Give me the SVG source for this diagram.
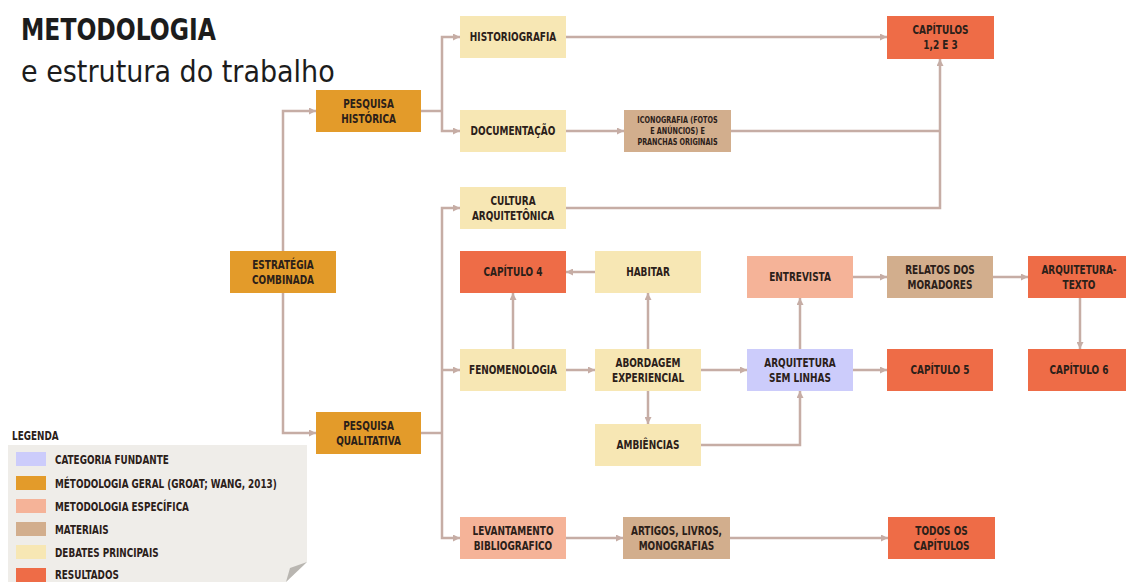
<svg xmlns="http://www.w3.org/2000/svg" width="1126" height="582" viewBox="0 0 1126 582">
  <defs>
    <marker id="arr" viewBox="0 0 10 10" refX="10" refY="5" markerWidth="7" markerHeight="7" markerUnits="userSpaceOnUse" orient="auto">
      <path d="M0,0 L10,5 L0,10 z" fill="#c6ada5"/>
    </marker>
    <style>
      .bg { fill: #ffffff; }
      .lbl { font-family: "DejaVu Sans Condensed", "Liberation Sans Narrow", "Liberation Sans", sans-serif; font-weight: bold; font-size: 12px; fill: #2b2019; text-anchor: middle;
             transform-box: fill-box; transform-origin: center; transform: scaleX(0.83); }
      .sm { font-size: 9px; transform: scaleX(0.8); }
      .leg { font-family: "DejaVu Sans Condensed", "Liberation Sans Narrow", "Liberation Sans", sans-serif; font-weight: bold; font-size: 12px; fill: #2b2019;
             transform-box: fill-box; transform-origin: left center; transform: scaleX(0.82); }
      .title { font-family: "DejaVu Sans Condensed", "Liberation Sans Narrow", "Liberation Sans", sans-serif; font-weight: bold; font-size: 30px; fill: #1c1c1c;
               transform-box: fill-box; transform-origin: left center; transform: scaleX(0.87); }
      .sub { font-family: "DejaVu Sans Condensed", "Liberation Sans Narrow", "Liberation Sans", sans-serif; font-size: 30px; fill: #1c1c1c; }
      .conn path { fill: none; stroke: #c6ada5; stroke-width: 2.5; }
      .conn path.a { marker-end: url(#arr); }
      .geral { fill: #e39b2a; }
      .debate { fill: #f7e7b4; }
      .result { fill: #ee6c47; }
      .mat { fill: #d2ae8d; }
      .espec { fill: #f5b398; }
      .fund { fill: #ccccfb; }
    </style>
  </defs>

  <rect class="bg" x="0" y="0" width="1126" height="582"/>

  <!-- heading -->
  <text class="title" x="21" y="40">METODOLOGIA</text>
  <text class="sub" x="21" y="82">e estrutura do trabalho</text>

  <!-- connectors -->
  <g id="connectors" class="conn">
    <path class="a" d="M283,251 V111 H316"/>
    <path class="a" d="M283,293 V433 H316"/>
    <path d="M421,111 H442"/>
    <path class="a" d="M442,111 V37 H460"/>
    <path class="a" d="M442,111 V131 H460"/>
    <path d="M421,433 H442"/>
    <path class="a" d="M442,433 V208 H460"/>
    <path class="a" d="M442,370 H460"/>
    <path class="a" d="M442,433 V538 H460"/>
    <path class="a" d="M566,37 H887"/>
    <path class="a" d="M566,131 H624"/>
    <path d="M731,131 H940"/>
    <path class="a" d="M566,208 H940 V59"/>
    <path class="a" d="M595,272 H566"/>
    <path class="a" d="M513,349 V293"/>
    <path class="a" d="M566,370 H595"/>
    <path class="a" d="M648,349 V293"/>
    <path class="a" d="M648,391 V424"/>
    <path class="a" d="M701,370 H747"/>
    <path class="a" d="M701,445 H800 V391"/>
    <path class="a" d="M800,349 V298"/>
    <path class="a" d="M853,277 H887"/>
    <path class="a" d="M993,277 H1028"/>
    <path class="a" d="M1080,298 V349"/>
    <path class="a" d="M853,370 H887"/>
    <path class="a" d="M566,538 H623"/>
    <path class="a" d="M730,538 H888"/>
  </g>

  <!-- nodes -->
  <g id="estrategia-combinada">
    <rect class="geral" x="230" y="251" width="106" height="42"/>
    <text class="lbl" x="283" y="269">ESTRATÉGIA</text>
    <text class="lbl" x="283" y="284">COMBINADA</text>
  </g>
  <g id="pesquisa-historica">
    <rect class="geral" x="316" y="90" width="105" height="42"/>
    <text class="lbl" x="368.5" y="108">PESQUISA</text>
    <text class="lbl" x="368.5" y="123">HISTÓRICA</text>
  </g>
  <g id="pesquisa-qualitativa">
    <rect class="geral" x="316" y="412" width="105" height="42"/>
    <text class="lbl" x="368.5" y="430">PESQUISA</text>
    <text class="lbl" x="368.5" y="445">QUALITATIVA</text>
  </g>
  <g id="historiografia">
    <rect class="debate" x="460" y="16" width="106" height="42"/>
    <text class="lbl" x="513" y="41.5">HISTORIOGRAFIA</text>
  </g>
  <g id="documentacao">
    <rect class="debate" x="460" y="110" width="106" height="42"/>
    <text class="lbl" x="513" y="135.5">DOCUMENTAÇÃO</text>
  </g>
  <g id="iconografia">
    <rect class="mat" x="624" y="110" width="107" height="42"/>
    <text class="lbl sm" x="677.5" y="123">ICONOGRAFIA (FOTOS</text>
    <text class="lbl sm" x="677.5" y="134">E ANÚNCIOS) E</text>
    <text class="lbl sm" x="677.5" y="145">PRANCHAS ORIGINAIS</text>
  </g>
  <g id="capitulos-1-2-3">
    <rect class="result" x="887" y="16" width="107" height="43"/>
    <text class="lbl" x="940.5" y="34">CAPÍTULOS</text>
    <text class="lbl" x="940.5" y="49">1,2 E 3</text>
  </g>
  <g id="cultura-arquitetonica">
    <rect class="debate" x="460" y="187" width="106" height="42"/>
    <text class="lbl" x="513" y="205">CULTURA</text>
    <text class="lbl" x="513" y="220">ARQUITETÔNICA</text>
  </g>
  <g id="capitulo-4">
    <rect class="result" x="460" y="251" width="106" height="42"/>
    <text class="lbl" x="513" y="276.5">CAPÍTULO 4</text>
  </g>
  <g id="habitar">
    <rect class="debate" x="595" y="251" width="106" height="42"/>
    <text class="lbl" x="648" y="276.5">HABITAR</text>
  </g>
  <g id="entrevista">
    <rect class="espec" x="747" y="256" width="106" height="42"/>
    <text class="lbl" x="800" y="281.5">ENTREVISTA</text>
  </g>
  <g id="relatos-dos-moradores">
    <rect class="mat" x="887" y="256" width="106" height="42"/>
    <text class="lbl" x="940" y="274">RELATOS DOS</text>
    <text class="lbl" x="940" y="289">MORADORES</text>
  </g>
  <g id="arquitetura-texto">
    <rect class="result" x="1028" y="256" width="98" height="42"/>
    <text class="lbl" x="1079" y="274">ARQUITETURA-</text>
    <text class="lbl" x="1079" y="289">TEXTO</text>
  </g>
  <g id="fenomenologia">
    <rect class="debate" x="460" y="349" width="106" height="42"/>
    <text class="lbl" x="513" y="374.5">FENOMENOLOGIA</text>
  </g>
  <g id="abordagem-experiencial">
    <rect class="debate" x="595" y="349" width="106" height="42"/>
    <text class="lbl" x="648" y="367">ABORDAGEM</text>
    <text class="lbl" x="648" y="382">EXPERIENCIAL</text>
  </g>
  <g id="arquitetura-sem-linhas">
    <rect class="fund" x="747" y="349" width="106" height="42"/>
    <text class="lbl" x="800" y="367">ARQUITETURA</text>
    <text class="lbl" x="800" y="382">SEM LINHAS</text>
  </g>
  <g id="capitulo-5">
    <rect class="result" x="887" y="349" width="106" height="42"/>
    <text class="lbl" x="940" y="374.5">CAPÍTULO 5</text>
  </g>
  <g id="capitulo-6">
    <rect class="result" x="1028" y="349" width="98" height="42"/>
    <text class="lbl" x="1079" y="374.5">CAPÍTULO 6</text>
  </g>
  <g id="ambiencias">
    <rect class="debate" x="595" y="424" width="106" height="42"/>
    <text class="lbl" x="648" y="449.5">AMBIÊNCIAS</text>
  </g>
  <g id="levantamento-bibliografico">
    <rect class="espec" x="460" y="517" width="106" height="42"/>
    <text class="lbl" x="513" y="535">LEVANTAMENTO</text>
    <text class="lbl" x="513" y="550">BIBLIOGRAFICO</text>
  </g>
  <g id="artigos-livros-monografias">
    <rect class="mat" x="623" y="517" width="107" height="42"/>
    <text class="lbl" x="676.5" y="535">ARTIGOS, LIVROS,</text>
    <text class="lbl" x="676.5" y="550">MONOGRAFIAS</text>
  </g>
  <g id="todos-os-capitulos">
    <rect class="result" x="888" y="517" width="107" height="42"/>
    <text class="lbl" x="941.5" y="535">TODOS OS</text>
    <text class="lbl" x="941.5" y="550">CAPÍTULOS</text>
  </g>

  <!-- legend sheet with turned-up corner -->
  <g id="legenda">
    <text class="leg" x="12" y="440">LEGENDA</text>
    <path d="M8,445 H307 V562 L286,582 H8 Z" fill="#efede9"/>
    <path d="M307,562 L286,582 L290,568 Z" fill="#b9b6b1"/>
    <rect class="fund" x="16" y="452" width="30" height="14"/>
    <text class="leg" x="55" y="464">CATEGORIA FUNDANTE</text>
    <rect class="geral" x="16" y="476" width="30" height="14"/>
    <text class="leg" x="55" y="488">MÉTODOLOGIA GERAL (GROAT; WANG, 2013)</text>
    <rect class="espec" x="16" y="499" width="30" height="14"/>
    <text class="leg" x="55" y="511">METODOLOGIA ESPECÍFICA</text>
    <rect class="mat" x="16" y="522" width="30" height="14"/>
    <text class="leg" x="55" y="534">MATERIAIS</text>
    <rect class="debate" x="16" y="545" width="30" height="14"/>
    <text class="leg" x="55" y="557">DEBATES PRINCIPAIS</text>
    <rect class="result" x="16" y="568" width="30" height="14"/>
    <text class="leg" x="55" y="579">RESULTADOS</text>
  </g>
</svg>
